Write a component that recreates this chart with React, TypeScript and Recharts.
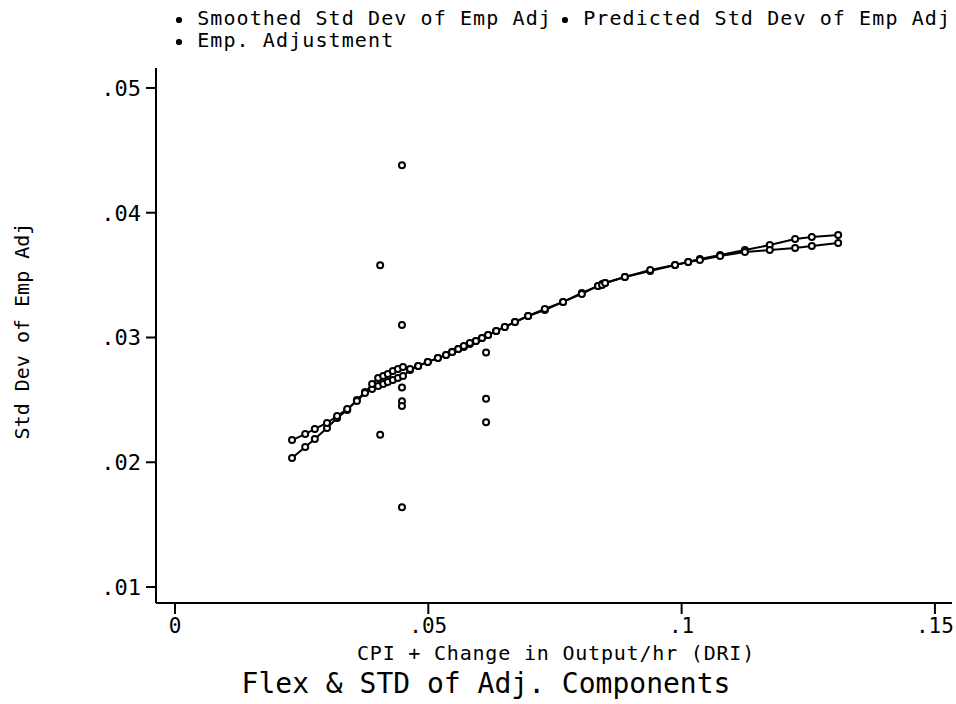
import React from "react";
import { ComposedChart, Line, Scatter, XAxis, YAxis } from "recharts";

const lineX = [
  0.0231, 0.0257, 0.0276, 0.03, 0.032, 0.034, 0.0359, 0.0375, 0.0389, 0.0401,
  0.0411, 0.042, 0.043, 0.044, 0.045, 0.0464, 0.048, 0.0499, 0.0519, 0.0535,
  0.0547, 0.0559, 0.057, 0.0582, 0.0594, 0.0606, 0.0618, 0.0634, 0.0651, 0.0671,
  0.0697, 0.073, 0.0766, 0.0803, 0.0835, 0.0843, 0.0849, 0.0888, 0.0938, 0.0987,
  0.1013, 0.1036, 0.1076, 0.1125, 0.1174, 0.1224, 0.1257, 0.1309,
];
const smoothedY = [
  0.02034, 0.02122, 0.02186, 0.02275, 0.02355, 0.02419, 0.02499, 0.02563, 0.02587, 0.02611,
  0.02627, 0.02643, 0.02659, 0.02675, 0.02691, 0.02739, 0.02772, 0.02804, 0.02836, 0.0286,
  0.02884, 0.02908, 0.02924, 0.02948, 0.02972, 0.02996, 0.0302, 0.03052, 0.03084, 0.03124,
  0.03172, 0.0322, 0.03285, 0.03357, 0.03413, 0.03429, 0.03437, 0.03485, 0.03533, 0.03581,
  0.03605, 0.03629, 0.03661, 0.03701, 0.03741, 0.0379, 0.03806, 0.03822,
];
const predictedY = [
  0.02178, 0.02226, 0.02267, 0.02315, 0.02371, 0.02427, 0.02491, 0.02555, 0.02627, 0.02675,
  0.02691, 0.02707, 0.02731, 0.02747, 0.02764, 0.02747, 0.02772, 0.02804, 0.02836, 0.0286,
  0.02884, 0.02908, 0.02932, 0.02956, 0.02972, 0.02996, 0.0302, 0.03052, 0.03084, 0.03124,
  0.03172, 0.03228, 0.03285, 0.03349, 0.03413, 0.03421, 0.03437, 0.03485, 0.03541, 0.03581,
  0.03605, 0.03621, 0.03653, 0.03685, 0.03701, 0.03717, 0.03733, 0.03758,
];
const empX = [0.0405, 0.0405, 0.0448, 0.0448, 0.0448, 0.0448, 0.0448, 0.0448, 0.0614, 0.0614, 0.0614];
const empY = [0.0358, 0.0222, 0.0438, 0.031, 0.026, 0.0249, 0.0245, 0.0164, 0.0288, 0.0251, 0.0232];

const xTicks = [0, 0.05, 0.1, 0.15];
const xTickLabels = ["0", ".05", ".1", ".15"];
const yTicks = [0.01, 0.02, 0.03, 0.04, 0.05];
const yTickLabels = [".01", ".02", ".03", ".04", ".05"];

const legendLabels = [
  "Smoothed Std Dev of Emp Adj",
  "Predicted Std Dev of Emp Adj",
  "Emp. Adjustment",
];
const xAxisTitle = "CPI + Change in Output/hr (DRI)";
const yAxisTitle = "Std Dev of Emp Adj";
const chartTitle = "Flex & STD of Adj. Components";

const smoothedData = lineX.map((x, i) => ({ x, y: smoothedY[i] }));
const predictedData = lineX.map((x, i) => ({ x, y: predictedY[i] }));
const empData = empX.map((x, i) => ({ x, y: empY[i] }));

const FONT = "'DejaVu Sans Mono', monospace";

const Marker = (props: any) => {
  const { cx, cy } = props;
  if (cx == null || cy == null) return null;
  return <circle cx={cx} cy={cy} r={3} fill="#fff" stroke="#000" strokeWidth={2} />;
};

const LegendMark = () => (
  <svg width={10} height={10} style={{ display: "inline-block", verticalAlign: "middle" }}>
    <circle cx={5} cy={5} r={2.4} fill="#000" stroke="#000" strokeWidth={1.4} />
  </svg>
);

const textStyle: React.CSSProperties = {
  position: "absolute",
  fontFamily: FONT,
  color: "#000",
  whiteSpace: "nowrap",
  lineHeight: 1,
};

export default function App() {
  return (
    <div style={{ position: "absolute", left: 0, top: 0, width: 956, height: 704, background: "#fff" }}>
      <ComposedChart
        width={956}
        height={704}
        margin={{ top: 68, right: 4, bottom: 61, left: 0 }}
      >
        <XAxis
          type="number"
          dataKey="x"
          domain={[-0.00375, 0.15337]}
          ticks={xTicks}
          tickFormatter={(v: number) => xTickLabels[xTicks.indexOf(v)] ?? ""}
          allowDataOverflow
          height={40}
          tickSize={11}
          tickMargin={4}
          axisLine={{ stroke: "#000", strokeWidth: 2 }}
          tickLine={{ stroke: "#000", strokeWidth: 2 }}
          tick={{ fill: "#000", fontFamily: FONT, fontSize: 21 }}
        />
        <YAxis
          type="number"
          dataKey="y"
          domain={[0.00872, 0.0516]}
          ticks={yTicks}
          tickFormatter={(v: number) => yTickLabels[yTicks.indexOf(v)] ?? ""}
          allowDataOverflow
          width={156}
          tickSize={10}
          tickMargin={5}
          axisLine={{ stroke: "#000", strokeWidth: 2 }}
          tickLine={{ stroke: "#000", strokeWidth: 2 }}
          tick={{ fill: "#000", fontFamily: FONT, fontSize: 22 }}
        />
        <Line
          data={smoothedData}
          dataKey="y"
          type="linear"
          stroke="#000"
          strokeWidth={2}
          dot={<Marker />}
          activeDot={false}
          isAnimationActive={false}
          name={legendLabels[0]}
        />
        <Line
          data={predictedData}
          dataKey="y"
          type="linear"
          stroke="#000"
          strokeWidth={2}
          dot={<Marker />}
          activeDot={false}
          isAnimationActive={false}
          name={legendLabels[1]}
        />
        <Scatter
          data={empData}
          dataKey="y"
          shape={<Marker />}
          isAnimationActive={false}
          name={legendLabels[2]}
        />
      </ComposedChart>

      <div style={{ ...textStyle, left: 174, top: 8, fontSize: 20, letterSpacing: 1.1 }}>
        <LegendMark /> {legendLabels[0]}
      </div>
      <div style={{ ...textStyle, left: 560, top: 8, fontSize: 20, letterSpacing: 1.1 }}>
        <LegendMark /> {legendLabels[1]}
      </div>
      <div style={{ ...textStyle, left: 174, top: 30, fontSize: 20, letterSpacing: 1.1 }}>
        <LegendMark /> {legendLabels[2]}
      </div>

      <div
        style={{
          ...textStyle,
          left: 22,
          top: 331,
          fontSize: 20,
          transform: "translate(-50%, -50%) rotate(-90deg)",
        }}
      >
        {yAxisTitle}
      </div>
      <div
        style={{
          ...textStyle,
          left: 556,
          top: 653,
          fontSize: 20,
          letterSpacing: 0.8,
          transform: "translate(-50%, -50%)",
        }}
      >
        {xAxisTitle}
      </div>
      <div
        style={{
          ...textStyle,
          left: 486,
          top: 684,
          fontSize: 28,
          transform: "translate(-50%, -50%)",
        }}
      >
        {chartTitle}
      </div>
    </div>
  );
}
